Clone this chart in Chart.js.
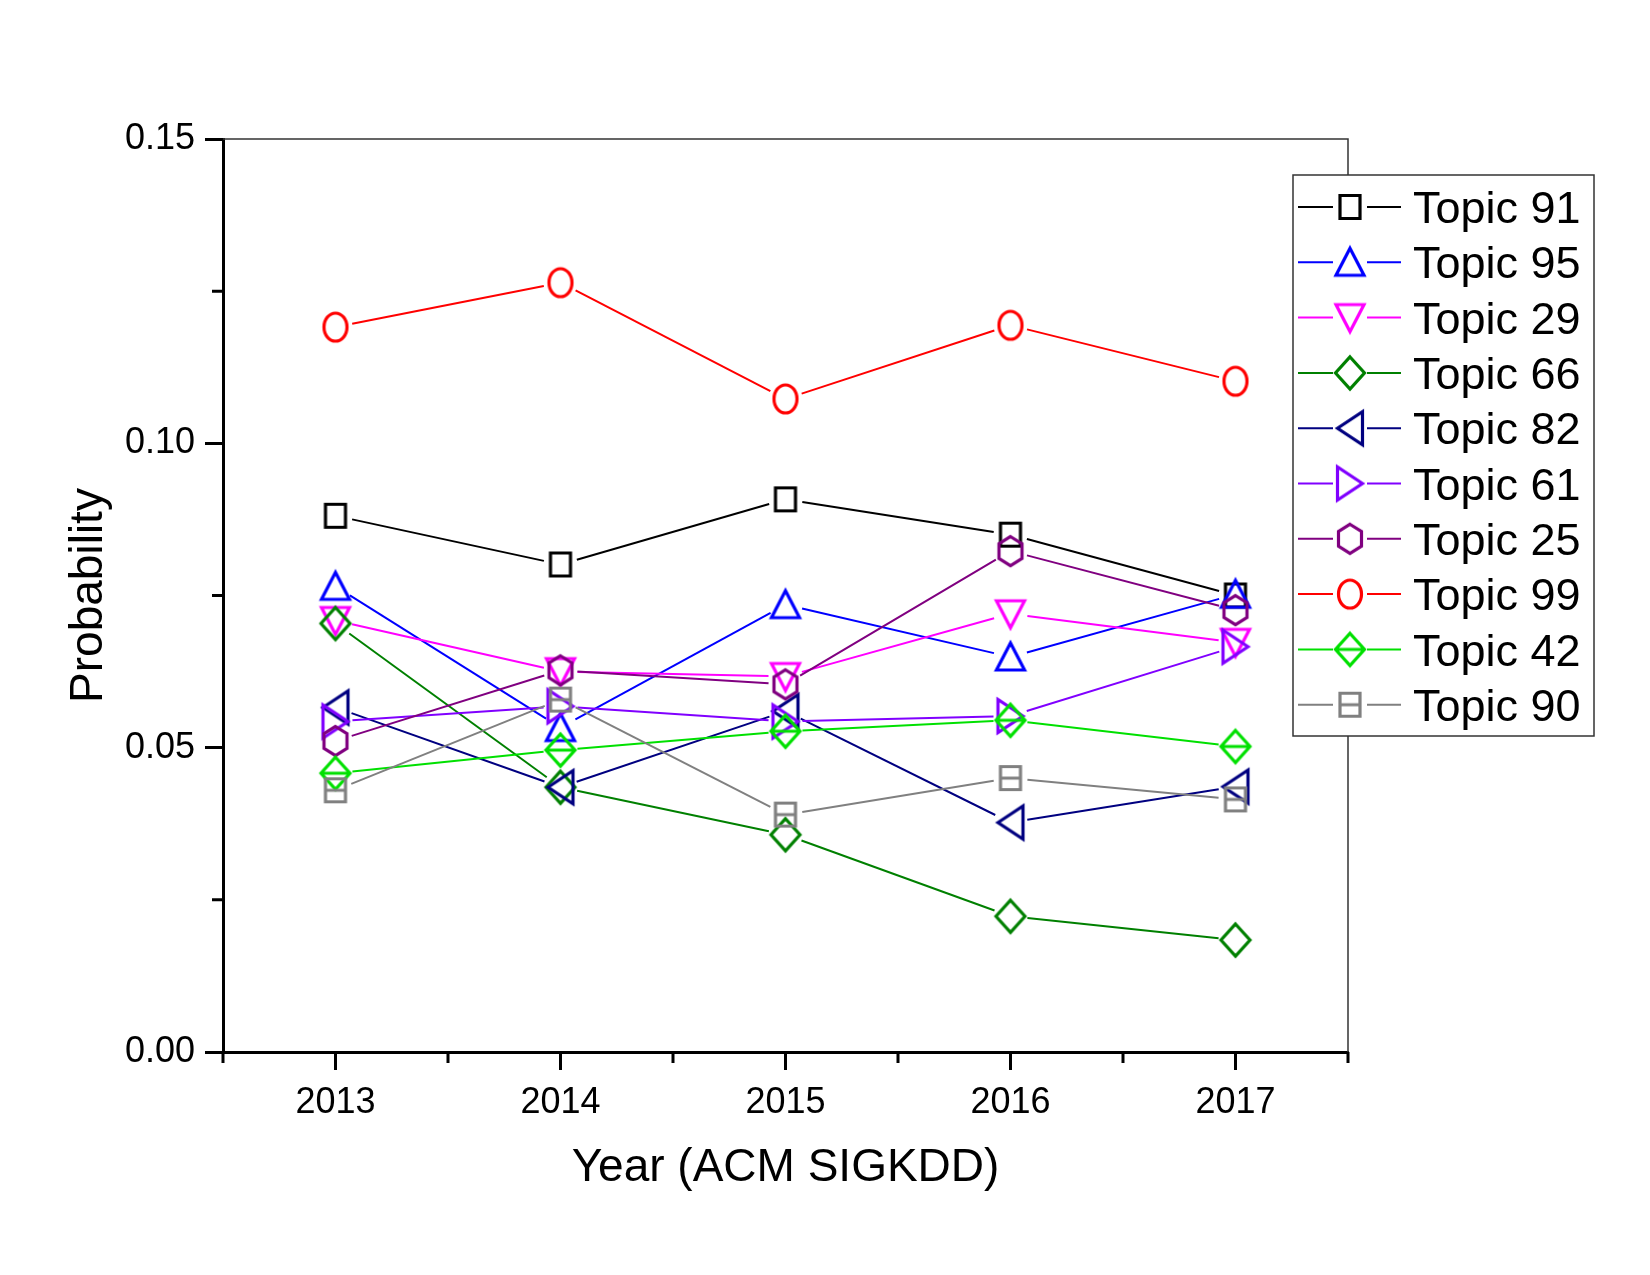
<!DOCTYPE html>
<html>
<head>
<meta charset="utf-8">
<script src="https://cdn.jsdelivr.net/npm/chart.js@4.4.1/dist/chart.umd.min.js"></script>
<style>
  html, body { margin: 0; padding: 0; background: #fff; }
  #wrap { width: 1650px; height: 1275px; }
</style>
</head>
<body>
<div id="wrap"><canvas id="chart" width="1650" height="1275"></canvas></div>
<script>
// data
const years = ['2013', '2014', '2015', '2016', '2017'];
const topicNames = ['Topic 91', 'Topic 95', 'Topic 29', 'Topic 66', 'Topic 82',
                    'Topic 61', 'Topic 25', 'Topic 99', 'Topic 42', 'Topic 90'];
const topic91 = [0.0881, 0.0801, 0.0908, 0.0850, 0.0750];
const topic95 = [0.0765, 0.0533, 0.0735, 0.0649, 0.0752];
const topic29 = [0.0709, 0.0625, 0.0617, 0.0720, 0.0673];
const topic66 = [0.0704, 0.0435, 0.0357, 0.0223, 0.0184];
const topic82 = [0.0566, 0.0435, 0.0560, 0.0377, 0.0436];
const topic61 = [0.0543, 0.0568, 0.0543, 0.0552, 0.0666];
const topic25 = [0.0511, 0.0627, 0.0604, 0.0823, 0.0726];
const topic99 = [0.1191, 0.1264, 0.1073, 0.1194, 0.1102];
const topic42 = [0.0458, 0.0496, 0.0527, 0.0545, 0.0502];
const topic90 = [0.0430, 0.0579, 0.0390, 0.0450, 0.0415];
const yTicks = [0, 0.05, 0.10, 0.15];
const yMinorTicks = [0.025, 0.075, 0.125];

const seriesValues = [topic91, topic95, topic29, topic66, topic82, topic61, topic25, topic99, topic42, topic90];
const colors = ['#000000', '#0000ff', '#ff00ff', '#008000', '#000080',
                '#8000ff', '#800080', '#ff0000', '#00e000', '#808080'];
const shapes = ['square', 'triUp', 'triDown', 'diamond', 'triLeft',
                'triRight', 'hexagon', 'circle', 'diamondLine', 'squareLine'];

const FONT = '"Liberation Sans", Arial, sans-serif';
const GAP = 17;

// hollow Origin-style markers drawn on small canvases
function makeMarker(shape, color) {
    const c = document.createElement('canvas');
    c.width = 40;
    c.height = 44;
    const g = c.getContext('2d');
    g.translate(20, 22);
    g.strokeStyle = color;
    g.lineWidth = 3.2;
    g.lineJoin = 'miter';
    g.beginPath();
    const poly = pts => {
        g.moveTo(pts[0][0], pts[0][1]);
        for (let i = 1; i < pts.length; i++) g.lineTo(pts[i][0], pts[i][1]);
        g.closePath();
    };
    switch (shape) {
        case 'square': g.rect(-10, -11.5, 20, 23); break;
        case 'squareLine': g.rect(-10, -11.5, 20, 23); g.moveTo(-10, 0); g.lineTo(10, 0); break;
        case 'circle': g.ellipse(0, 0, 11.5, 14, 0, 0, Math.PI * 2); break;
        case 'triUp': poly([[0, -14], [14, 13], [-14, 13]]); break;
        case 'triDown': poly([[0, 14], [14, -13], [-14, -13]]); break;
        case 'diamond': poly([[0, -16], [14.5, 0], [0, 16], [-14.5, 0]]); break;
        case 'diamondLine': poly([[0, -16], [14.5, 0], [0, 16], [-14.5, 0]]); g.moveTo(-14.5, 0); g.lineTo(14.5, 0); break;
        case 'triLeft': poly([[-12.5, 0], [12.5, -16.5], [12.5, 16.5]]); break;
        case 'triRight': poly([[12.5, 0], [-12.5, -16.5], [-12.5, 16.5]]); break;
        case 'hexagon': poly([[0, -14.5], [11.5, -7.25], [11.5, 7.25], [0, 14.5], [-11.5, 7.25], [-11.5, -7.25]]); break;
    }
    g.stroke();
    return c;
}

const markers = shapes.map((s, i) => makeMarker(s, colors[i]));

// connecting lines with a small gap round each marker
const gapLines = {
    id: 'gapLines',
    beforeDatasetsDraw(chart) {
        const ctx = chart.ctx;
        ctx.save();
        chart.data.datasets.forEach((ds, i) => {
            const pts = chart.getDatasetMeta(i).data;
            ctx.strokeStyle = ds.borderColor;
            ctx.lineWidth = 2;
            for (let k = 0; k < pts.length - 1; k++) {
                const a = pts[k], b = pts[k + 1];
                const dx = b.x - a.x, dy = b.y - a.y;
                const len = Math.hypot(dx, dy);
                if (len <= 2 * GAP) continue;
                const ux = dx / len, uy = dy / len;
                ctx.beginPath();
                ctx.moveTo(a.x + ux * GAP, a.y + uy * GAP);
                ctx.lineTo(b.x - ux * GAP, b.y - uy * GAP);
                ctx.stroke();
            }
        });
        ctx.restore();
    }
};

// frame, minor ticks and the boxed legend
const extras = {
    id: 'extras',
    afterDraw(chart) {
        const ctx = chart.ctx;
        const area = chart.chartArea;
        const xs = chart.scales.x, ys = chart.scales.y;
        ctx.save();

        // top and right frame
        ctx.strokeStyle = '#333';
        ctx.lineWidth = 1.5;
        ctx.beginPath();
        ctx.moveTo(area.left, area.top);
        ctx.lineTo(area.right, area.top);
        ctx.lineTo(area.right, area.bottom);
        ctx.stroke();

        // minor ticks
        ctx.strokeStyle = '#000';
        ctx.lineWidth = 3;
        ctx.beginPath();
        yMinorTicks.forEach(v => {
            const y = ys.getPixelForValue(v);
            ctx.moveTo(area.left - 11, y);
            ctx.lineTo(area.left, y);
        });
        for (let i = 0; i <= years.length; i++) {
            const x = xs.getPixelForValue(i - 0.5);
            ctx.moveTo(x, area.bottom);
            ctx.lineTo(x, area.bottom + 11);
        }
        ctx.stroke();

        // legend
        const box = { x: 1293, y: 175, w: 301, h: 561 };
        const fs = 45;
        ctx.fillStyle = '#fff';
        ctx.fillRect(box.x, box.y, box.w, box.h);
        ctx.strokeStyle = '#333';
        ctx.lineWidth = 1.5;
        ctx.strokeRect(box.x, box.y, box.w, box.h);
        ctx.font = fs + 'px ' + FONT;
        ctx.textAlign = 'left';
        ctx.textBaseline = 'alphabetic';
        chart.data.datasets.forEach((ds, i) => {
            const cy = 207 + i * 55.3;
            ctx.strokeStyle = ds.borderColor;
            ctx.lineWidth = 2;
            ctx.beginPath();
            ctx.moveTo(1298, cy); ctx.lineTo(1333, cy);
            ctx.moveTo(1367, cy); ctx.lineTo(1401, cy);
            ctx.stroke();
            const m = ds.pointStyle;
            ctx.drawImage(m, 1350 - m.width / 2, cy - m.height / 2);
            ctx.fillStyle = '#000';
            ctx.fillText(ds.label, 1413, cy + 0.358 * fs);
        });
        ctx.restore();
    }
};

const datasets = topicNames.map((name, i) => ({
    label: name,
    data: seriesValues[i],
    borderColor: colors[i],
    backgroundColor: colors[i],
    pointStyle: markers[i],
    pointRadius: 14,
    showLine: false,
    order: -i
}));

new Chart(document.getElementById('chart'), {
    type: 'line',
    data: { labels: years, datasets: datasets },
    options: {
        responsive: false,
        animation: false,
        devicePixelRatio: 1,
        layout: { padding: { top: 139, right: 302, left: 0, bottom: 0 } },
        plugins: {
            legend: { display: false },
            tooltip: { enabled: false }
        },
        scales: {
            x: {
                type: 'category',
                offset: true,
                grid: { display: true, drawOnChartArea: false, offset: false, tickLength: 18, tickWidth: 3, tickColor: '#000' },
                border: { display: true, width: 3, color: '#000' },
                ticks: { color: '#000', font: { family: FONT, size: 36 }, padding: 11, maxRotation: 0 },
                title: { display: true, text: 'Year (ACM SIGKDD)', color: '#000', font: { family: FONT, size: 46 }, padding: { top: 0, bottom: 79 } },
                afterFit(s) { s.height = 223; }
            },
            y: {
                min: 0,
                max: 0.15,
                afterBuildTicks(s) { s.ticks = yTicks.map(v => ({ value: v })); },
                grid: { display: true, drawOnChartArea: false, tickLength: 18, tickWidth: 3, tickColor: '#000' },
                border: { display: true, width: 3, color: '#000' },
                ticks: { color: '#000', font: { family: FONT, size: 36 }, padding: 10, callback: v => v.toFixed(2) },
                title: { display: true, text: 'Probability', color: '#000', font: { family: FONT, size: 46 }, padding: { top: 62, bottom: 0 } },
                afterFit(s) { s.width = 223; }
            }
        }
    },
    plugins: [gapLines, extras]
});
</script>
</body>
</html>
